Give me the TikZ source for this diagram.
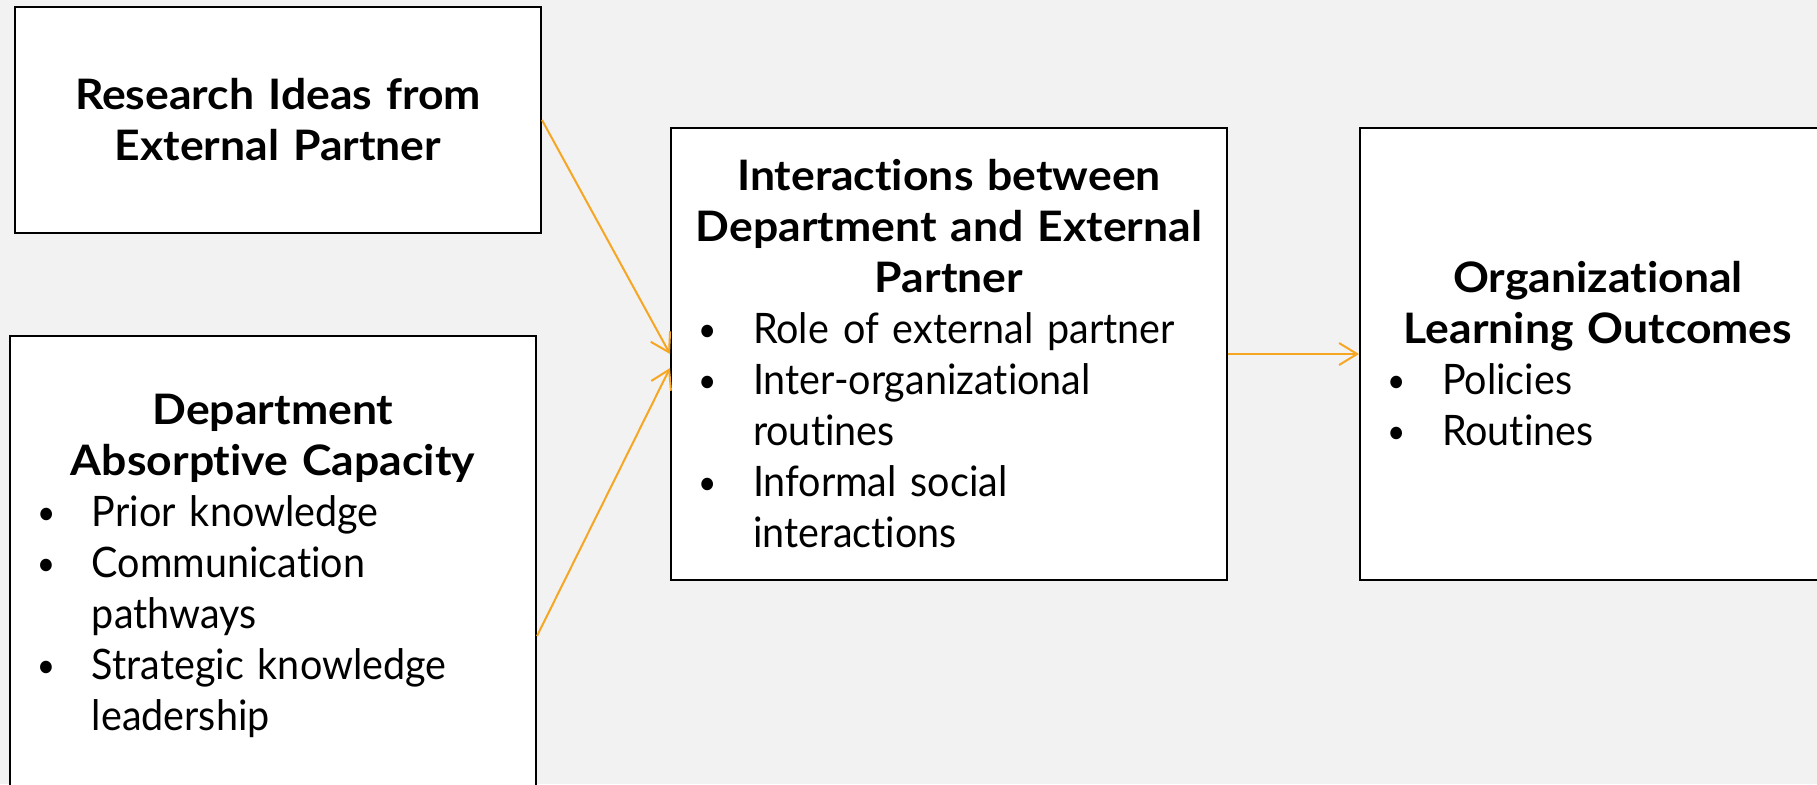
\documentclass[tikz,border=0pt]{standalone}
\usepackage{fontspec}
\setmainfont{Lato}[Ligatures=NoCommon, FakeStretch=0.94]
\newfontfamily\headfont{Lato}[Ligatures=NoCommon, FakeStretch=1.06]
\usetikzlibrary{arrows.meta}
\definecolor{slidegray}{RGB}{242,242,242}
\definecolor{linkorange}{RGB}{247,166,35}
% one bullet line (break it with \newline)
\newcommand{\blt}[1]{\par\raggedright\noindent\hangindent=41pt\hangafter=1\hspace*{13.5pt}\makebox[27.5pt][l]{\raisebox{1pt}{\scalebox{0.8}{\textbullet}}}#1\par}
\newcommand{\hd}[1]{{\centering\headfont\bfseries #1\par}}

\begin{document}
\begin{tikzpicture}[x=0.5pt,y=-0.5pt,
	box/.style={draw=black, line width=1pt, fill=white, inner sep=0pt, anchor=north west,
		font=\fontsize{21pt}{25.5pt}\selectfont},
	flow/.style={draw=linkorange, line width=1pt, -{Straight Barb[length=9pt,width=11pt]}}]
			%%%%% START %%%%%
			\fill[slidegray, use as bounding box] (0,0) rectangle (1817,784);
			\clip (0,0) rectangle (1817,784);
			
			\node[box, minimum width=263pt, minimum height=113pt, text width=263pt] (ideas) at (14,6)
				{\hd{Research Ideas from\\External Partner}};
			
			\node[box, minimum width=263pt, minimum height=230pt, text width=263pt] (capacity) at (9,335)
				{\hd{Department\\Absorptive Capacity}
				\blt{Prior knowledge}
				\blt{Communication\newline pathways}
				\blt{Strategic knowledge\newline leadership}};
			
			\node[box, minimum width=278pt, minimum height=226pt, text width=278pt] (inter) at (670,127)
				{\hd{Interactions between\\Department and External\\Partner}
				\blt{Role of external partner}
				\blt{Inter-organizational\newline routines}
				\blt{Informal social\newline interactions}};
			
			\node[box, minimum width=238pt, minimum height=226pt, text width=238pt] (outcomes) at (1359,127)
				{\hd{Organizational\\Learning Outcomes}
				\blt{Policies}
				\blt{Routines}};
			
			\draw[flow] (ideas.east) -- (inter.west);
			\draw[flow] ([yshift=-35pt]capacity.east) -- ([yshift=-7pt]inter.west);
			\draw[flow] (inter.east) -- (outcomes.west);
			%%%%% END %%%%%
\end{tikzpicture}
\end{document}
